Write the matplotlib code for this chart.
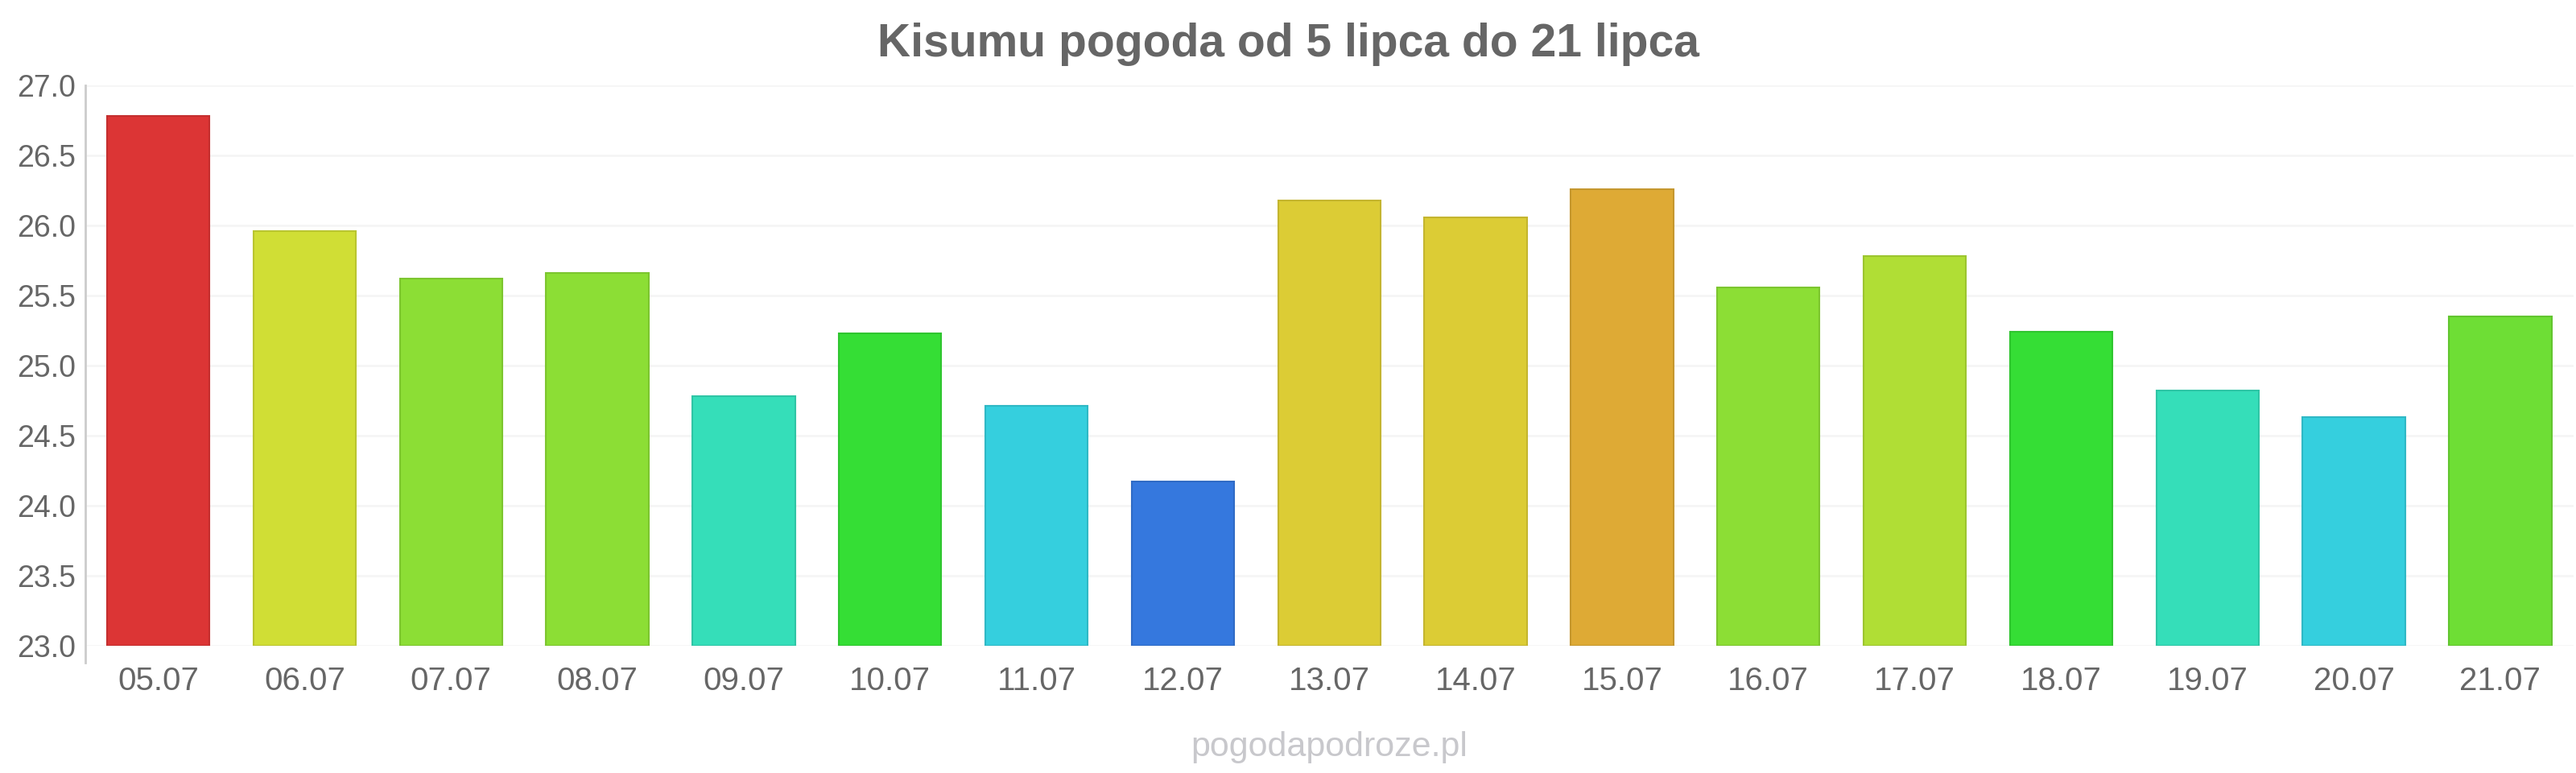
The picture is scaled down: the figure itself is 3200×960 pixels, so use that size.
import matplotlib
matplotlib.use("Agg")
import matplotlib.pyplot as plt
from matplotlib.lines import Line2D

plt.rcParams['font.family'] = ['Liberation Sans', 'DejaVu Sans']

# data
days = ['05.07', '06.07', '07.07', '08.07', '09.07', '10.07', '11.07', '12.07', '13.07',
        '14.07', '15.07', '16.07', '17.07', '18.07', '19.07', '20.07', '21.07']
temps = [26.78, 25.96, 25.62, 25.66, 24.78, 25.23, 24.71, 24.17, 26.18,
         26.06, 26.26, 25.56, 25.78, 25.24, 24.82, 24.63, 25.35]
colors = ['#dc3535', '#d0de35', '#8cde35', '#8cde35', '#35deb9', '#35de35', '#35cfde',
          '#3578de', '#dccc35', '#dccc35', '#deaa35', '#8cde35', '#b0de35', '#35de35',
          '#35deb9', '#35cfde', '#6ede35']
edges = ['#c42f2f', '#b9c52f', '#7cc52f', '#7cc52f', '#2fc5a5', '#2fc52f', '#2fb8c5',
         '#2f6bc5', '#c4b52f', '#c4b52f', '#c5972f', '#7cc52f', '#9cc52f', '#2fc52f',
         '#2fc5a5', '#2fb8c5', '#62c52f']
yticks = [23.0, 23.5, 24.0, 24.5, 25.0, 25.5, 26.0, 26.5, 27.0]

fig = plt.figure(figsize=(32, 9.6), dpi=100)
ax = fig.add_axes([0.033, 0.1646, 0.966, 0.725])

x = list(range(len(days)))
bottom = yticks[0]
ax.bar(x, [t - bottom for t in temps], bottom=bottom, width=0.7, color=colors,
       edgecolor=edges, linewidth=1.5, zorder=3)

ax.set_xlim(-0.5, len(days) - 0.5)
ax.set_ylim(yticks[0], yticks[-1])
ax.set_yticks(yticks)
ax.set_yticklabels(['{:.1f}'.format(v) for v in yticks])
ax.set_xticks(x)
ax.set_xticklabels(days)
ax.tick_params(axis='both', length=0, labelcolor='#666666')
ax.tick_params(axis='x', pad=18, labelsize=29)
ax.tick_params(axis='y', pad=8, labelsize=27)
ax.grid(axis='y', color='#f5f5f5', linewidth=2, zorder=0)

for s in ['top', 'right', 'bottom', 'left']:
    ax.spines[s].set_visible(False)
ax.add_line(Line2D([0, 0], [-0.03, 1], transform=ax.transAxes, color='#cccccc',
                   linewidth=2, clip_on=False))

fig.text(0.5, 0.943, 'Kisumu pogoda od 5 lipca do 21 lipca', ha='center', va='center',
         fontsize=41, fontweight='bold', color='#666666')
fig.text(0.516, 0.033, 'pogodapodroze.pl', ha='center', va='center',
         fontsize=31, color='#c8c8cc')

fig.savefig('out.png', dpi=100)
